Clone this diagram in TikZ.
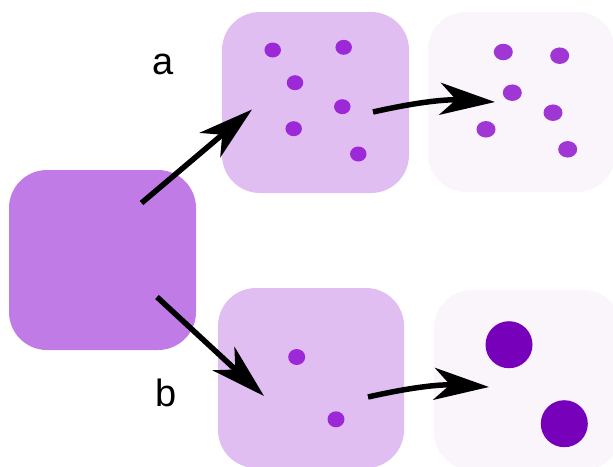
\documentclass[tikz,border=0pt]{standalone}
\usepackage{fontspec}
\setmainfont{Liberation Sans}
\usetikzlibrary{arrows.meta,shapes.geometric}
\definecolor{bigc}{RGB}{193,123,230}
\definecolor{midc}{RGB}{225,190,242}
\definecolor{lightc}{RGB}{250,244,251}
\definecolor{dotc}{RGB}{157,40,216}
\definecolor{dotr}{RGB}{160,54,212}
\definecolor{bigdot}{RGB}{119,0,187}
\begin{document}
\begin{tikzpicture}[x=1pt,y=-1pt,
  box/.style={draw=none, rectangle, rounded corners=38pt, inner sep=0pt, minimum width=187pt, minimum height=180pt},
  sdot/.style={ellipse, draw=none, fill=dotc, inner sep=0pt, minimum width=16.5pt, minimum height=15pt},
  rdot/.style={ellipse, draw=none, fill=dotr, inner sep=0pt, minimum width=19pt, minimum height=16.5pt},
  ldot/.style={circle, draw=none, fill=bigdot, inner sep=0pt, minimum size=47pt},
  arr/.style={line width=5.5pt, -{Stealth[length=55pt,width=32pt,inset=16pt]}},
  lab/.style={anchor=base, inner sep=0pt, font=\fontsize{38}{40}\selectfont}]
\useasboundingbox (0,0) rectangle (613,466);
\clip (0,0) rectangle (613,466);
% boxes
\node[box, fill=bigc] (big) at (102.5,260) {};
\node[box, fill=midc, minimum height=181pt] (tm) at (315.5,102.5) {};
\node[box, fill=lightc] (tr) at (521.5,102) {};
\node[box, fill=midc, minimum width=186pt] (bm) at (311,378) {};
\node[box, fill=lightc] (br) at (527.5,380) {};
% dots top middle
\node[sdot] (t1) at (272.7,50) {};
\node[sdot] (t2) at (343.7,47.3) {};
\node[sdot] (t3) at (295,82.7) {};
\node[sdot] (t4) at (342.3,106.7) {};
\node[sdot] (t5) at (293.7,128.7) {};
\node[sdot] (t6) at (358.3,154) {};
% dots top right
\node[rdot] (r1) at (503.3,52) {};
\node[rdot] (r2) at (559.7,55.7) {};
\node[rdot] (r3) at (512.3,92.7) {};
\node[rdot] (r4) at (553,112.7) {};
\node[rdot] (r5) at (486,129.3) {};
\node[rdot] (r6) at (567.7,149.3) {};
% dots bottom middle
\node[sdot, minimum width=17pt, minimum height=16pt] (m1) at (296.7,357) {};
\node[sdot, minimum width=17pt, minimum height=16pt] (m2) at (336,419.3) {};
% big dots bottom right
\node[ldot] (g1) at (509,344.7) {};
\node[ldot] (g2) at (564.3,423.7) {};
% labels
\node[lab] (la) at (163,74) {a};
\node[lab] (lb) at (166,406.5) {b};
% arrow ends
\coordinate (a1s) at (141.5,203);
\coordinate (a1e) at (252,109.5);
\coordinate (b1s) at (157,297);
\coordinate (b1e) at (264,396);
\coordinate (a2s) at (373,112);
\coordinate (a2e) at (495,102);
\coordinate (b2s) at (368,397);
\coordinate (b2e) at (489,387);
\draw[arr] (a1s) -- (a1e);
\draw[arr] (b1s) -- (b1e);
\draw[arr] (a2s) to[bend left=8] (a2e);
\draw[arr] (b2s) to[bend left=8] (b2e);
\end{tikzpicture}
\end{document}
